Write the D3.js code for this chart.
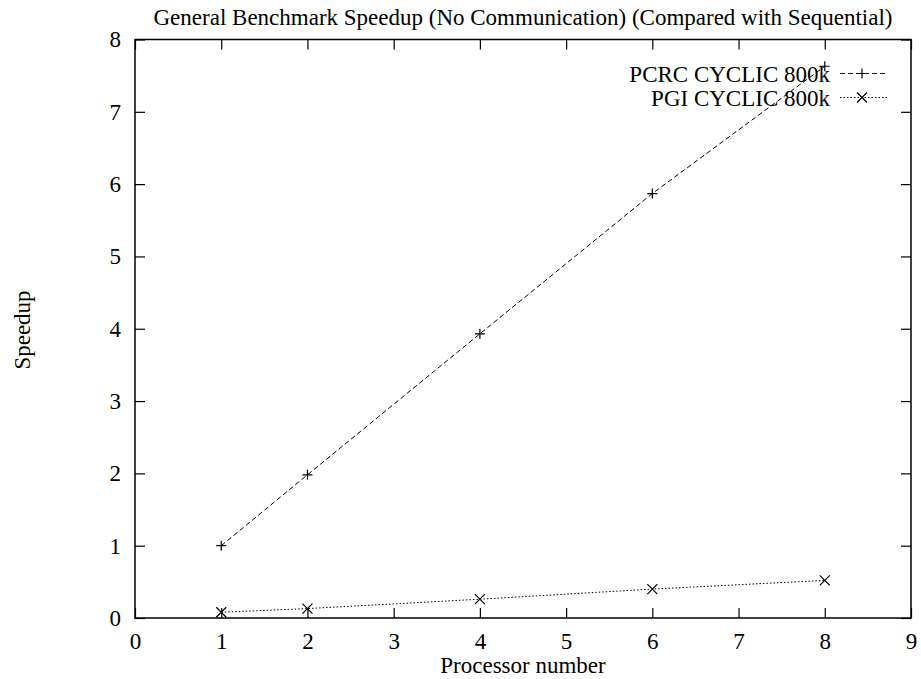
<!DOCTYPE html>
<html><head><meta charset="utf-8">
<script src="https://cdn.jsdelivr.net/npm/d3@7/dist/d3.min.js"></script>
<style>body{margin:0;background:#fff}svg text{font-family:"Liberation Serif","Times New Roman",serif;fill:#000}</style>
</head><body><svg id="c" width="921" height="679"></svg>
<script>
const processors = [1, 2, 4, 6, 8];
const pcrcSpeedup = [1.0, 1.98, 3.93, 5.87, 7.63];
const pgiSpeedup = [0.08, 0.13, 0.26, 0.40, 0.52];
const seriesNames = ["PCRC CYCLIC 800k", "PGI CYCLIC 800k"];
const xTicks = [0,1,2,3,4,5,6,7,8,9];
const yTicks = [0,1,2,3,4,5,6,7,8];
const titleText = "General Benchmark Speedup (No Communication) (Compared with Sequential)";

const svg = d3.select("#c");
const L=135, R=911, T=39.5, B=618;
const x = d3.scaleLinear().domain([0,9]).range([L,R]);
const y = d3.scaleLinear().domain([0,8]).range([B,T]);
const fs = 23, tl = 10;

svg.append("rect").attr("x",L).attr("y",T).attr("width",R-L).attr("height",B-T)
  .attr("fill","none").attr("stroke","#000").attr("stroke-width",1.5);

const ax = [
  {g: d3.axisBottom(x).tickValues(xTicks).tickSize(-tl).tickPadding(15), t:`translate(0,${B})`},
  {g: d3.axisTop(x).tickValues(xTicks).tickSize(-tl).tickFormat(""), t:`translate(0,${T})`},
  {g: d3.axisLeft(y).tickValues(yTicks).tickSize(-tl).tickPadding(14), t:`translate(${L},0)`},
  {g: d3.axisRight(y).tickValues(yTicks).tickSize(-tl).tickFormat(""), t:`translate(${R},0)`}
];
ax.forEach(a=>{
  const g = svg.append("g").attr("transform",a.t).call(a.g);
  g.select(".domain").remove();
  g.attr("font-size",null).attr("font-family",null);
  g.selectAll(".tick line").attr("stroke","#000").attr("stroke-width",1.2);
  g.selectAll(".tick text").attr("font-size",fs).attr("fill","#000");
});

svg.append("text").attr("x",523).attr("y",25).attr("text-anchor","middle").attr("font-size",fs).text(titleText);
svg.append("text").attr("x",523).attr("y",673).attr("text-anchor","middle").attr("font-size",fs).text("Processor number");
svg.append("text").attr("transform","translate(30,330) rotate(-90)").attr("text-anchor","middle").attr("font-size",fs).text("Speedup");

const line = d3.line().x(d=>x(d[0])).y(d=>y(d[1]));
const s1 = processors.map((p,i)=>[p,pcrcSpeedup[i]]);
const s2 = processors.map((p,i)=>[p,pgiSpeedup[i]]);
const ms = 5;
function plus(g,cx,cy){g.append("path").attr("d",`M${cx-ms},${cy}H${cx+ms}M${cx},${cy-ms}V${cy+ms}`).attr("stroke","#000").attr("stroke-width",1.2);}
function cross(g,cx,cy){g.append("path").attr("d",`M${cx-ms},${cy-ms}L${cx+ms},${cy+ms}M${cx-ms},${cy+ms}L${cx+ms},${cy-ms}`).attr("stroke","#000").attr("stroke-width",1.2);}

svg.append("path").attr("d",line(s1)).attr("fill","none").attr("stroke","#000").attr("stroke-width",1).attr("stroke-dasharray","5,3");
svg.append("path").attr("d",line(s2)).attr("fill","none").attr("stroke","#000").attr("stroke-width",1).attr("stroke-dasharray","1.5,2");
const mg = svg.append("g");
s1.forEach(d=>plus(mg,x(d[0]),y(d[1])));
s2.forEach(d=>cross(mg,x(d[0]),y(d[1])));

const lg = svg.append("g");
const ly = [73.5, 97.5];
seriesNames.forEach((n,i)=>{
  lg.append("text").attr("x",830).attr("y",ly[i]+8).attr("text-anchor","end").attr("font-size",fs).text(n);
  lg.append("line").attr("x1",840).attr("x2",888).attr("y1",ly[i]).attr("y2",ly[i]).attr("stroke","#000").attr("stroke-width",1)
    .attr("stroke-dasharray", i===0?"5,3":"1.5,2");
  if(i===0) plus(lg,862,ly[i]); else cross(lg,862,ly[i]);
});
</script></body></html>
